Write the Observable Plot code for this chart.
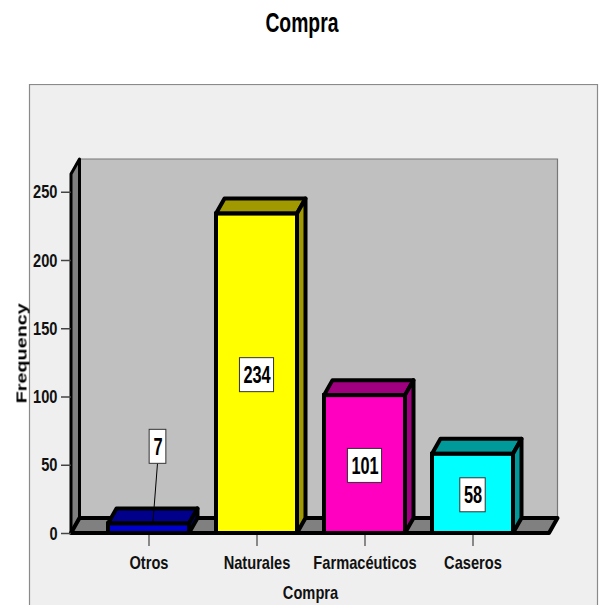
<!DOCTYPE html>
<html>
<head>
<meta charset="utf-8">
<script src="https://cdn.jsdelivr.net/npm/d3@7"></script>
<script src="https://cdn.jsdelivr.net/npm/@observablehq/plot@0.6"></script>
<style>
  html, body { margin: 0; padding: 0; background: #fff; overflow: hidden; }
  #title { height: 84px; box-sizing: border-box; padding: 7px 0 0 4px; text-align: center; font: bold 28px/32px "Liberation Sans", Arial, sans-serif; color: #000; }
  #title span { display: inline-block; transform: scaleX(0.69); }
  svg { display: block; filter: blur(0.35px); }
</style>
</head>
<body>
<div id="title"><span>Compra</span></div>
<div id="chart"></div>
<script>
const categories = ["Otros", "Naturales", "Farmacéuticos", "Caseros"];
const frequencies = [7, 234, 101, 58];
const labelLevels = [63.5, 116, 49.5, 28];
const faceColors = ["#0000cc", "#ffff00", "#ff00c0", "#00ffff"];
const shadeColors = ["#00008a", "#a09a00", "#a00080", "#009a9a"];
const yTicks = [0, 50, 100, 150, 200, 250];

const rows = categories.map((cat, i) => ({cat, n: frequencies[i], level: labelLevels[i], shade: shadeColors[i]}));

const depthX = 8.5, depthY = -15;
const font = "Liberation Sans, Arial, sans-serif";
const svgNS = d3.namespaces.svg;
const poly = (g, pts, fill, sw) => g.append("polygon")
  .attr("points", pts.map(p => p.join(",")).join(" "))
  .attr("fill", fill).attr("stroke", "#000").attr("stroke-width", sw).attr("stroke-linejoin", "round");

function panel(index, scales, values, dim) {
  const g = d3.select(document.createElementNS(svgNS, "g"));
  g.append("rect").attr("x", 29.5).attr("y", 0.5).attr("width", dim.width - 31).attr("height", dim.height + 5)
    .attr("fill", "#efefef").attr("stroke", "#8a8a8a").attr("stroke-width", 1.2);
  return g.node();
}

function walls(index, scales, values, dim) {
  const g = d3.select(document.createElementNS(svgNS, "g"));
  const l = dim.marginLeft, r = dim.width - dim.marginRight;
  const t = dim.marginTop, b = dim.height - dim.marginBottom;
  g.append("polygon")
    .attr("points", [[l + depthX, t + depthY], [r + depthX, t + depthY], [r + depthX, b + depthY], [l + depthX, b + depthY]].map(p => p.join(",")).join(" "))
    .attr("fill", "#c0c0c0").attr("stroke", "#777").attr("stroke-width", 1.2);
  poly(g, [[l, b], [l + depthX, b + depthY], [l + depthX, t + depthY], [l, t]], "#808080", 3);
  poly(g, [[l, b], [l + depthX, b + depthY], [r + depthX, b + depthY], [r, b]], "#808080", 4);
  return g.node();
}

function barSides(index, scales) {
  const g = d3.select(document.createElementNS(svgNS, "g"));
  const bw = scales.x.bandwidth();
  rows.forEach(d => {
    const x0 = scales.x(d.cat), x1 = x0 + bw, y0 = scales.y(0), y1 = scales.y(d.n);
    poly(g, [[x0, y1], [x0 + depthX, y1 + depthY], [x1 + depthX, y1 + depthY], [x1, y1]], d.shade, 4);
    poly(g, [[x1, y1], [x1 + depthX, y1 + depthY], [x1 + depthX, y0 + depthY], [x1, y0]], d.shade, 4);
  });
  return g.node();
}

const calloutShift = 9;
const isCallout = d => d.n < 20;

function labelBoxes(index, scales) {
  const g = d3.select(document.createElementNS(svgNS, "g"));
  const bw = scales.x.bandwidth();
  rows.forEach(d => {
    const cx = scales.x(d.cat) + bw / 2 + (isCallout(d) ? calloutShift : 0);
    const cy = scales.y(d.level);
    const w = 8 + 8.7 * String(d.n).length;
    if (isCallout(d)) {
      g.append("line").attr("x1", cx).attr("y1", cy + 17)
        .attr("x2", cx - 4.5).attr("y2", scales.y(d.n) - 2)
        .attr("stroke", "#000").attr("stroke-width", 1);
    }
    g.append("rect").attr("x", cx - w / 2).attr("y", cy - 17).attr("width", w).attr("height", 34)
      .attr("fill", "#fff").attr("stroke", "#333").attr("stroke-width", 1);
  });
  return g.node();
}

const chart = Plot.plot({
  width: 599,
  height: 521,
  marginLeft: 71,
  marginRight: 50,
  marginTop: 90,
  marginBottom: 72,
  style: {background: "transparent", fontFamily: font},
  x: {domain: categories, range: [94, 526], paddingInner: 0.25, paddingOuter: 0.125, label: null},
  y: {domain: [0, 263], label: null},
  color: {domain: categories, range: faceColors},
  marks: [
    panel,
    walls,
    Plot.axisX({tickSize: 13, tickPadding: 9, fontSize: 19, fontWeight: "bold", fontFamily: font, stroke: "#444", strokeWidth: 1.2, fill: "#111", label: null}),
    Plot.axisY({ticks: yTicks, tickSize: 10, tickPadding: 4, fontSize: 19, fontWeight: "bold", fontFamily: font, stroke: "#444", strokeWidth: 1.5, fill: "#111", label: null}),
    barSides,
    Plot.barY(rows, {x: "cat", y: "n", fill: "cat", stroke: "#000", strokeWidth: 4}),
    labelBoxes,
    Plot.text(rows.filter(d => !isCallout(d)), {x: "cat", y: "level", text: d => String(d.n), fontSize: 24, fontWeight: "bold", fontFamily: font, fill: "#000"}),
    Plot.text(rows.filter(isCallout), {x: "cat", y: "level", dx: calloutShift, text: d => String(d.n), fontSize: 24, fontWeight: "bold", fontFamily: font, fill: "#000"}),
    Plot.text(["Frequency"], {frameAnchor: "left", textAnchor: "middle", y: [132], dx: -50, rotate: -90, fontSize: 15, fontWeight: "bold", fontFamily: font, fill: "#000"}),
    Plot.text(["Compra"], {frameAnchor: "bottom", dy: 65, fontSize: 19, fontWeight: "bold", fontFamily: font, fill: "#111"})
  ]
});
document.getElementById("chart").appendChild(chart);

// The reference is a vertically stretched image: condense glyphs to match it.
const squeeze = {24: 0.68, 19: 0.77, 15: 1.32};
d3.select(chart).selectAll("text").each(function () {
  const size = parseFloat(getComputedStyle(this).fontSize);
  const f = squeeze[size] || 1;
  this.setAttribute("textLength", (this.getComputedTextLength() * f).toFixed(1));
  this.setAttribute("lengthAdjust", "spacingAndGlyphs");
});
</script>
</body>
</html>
